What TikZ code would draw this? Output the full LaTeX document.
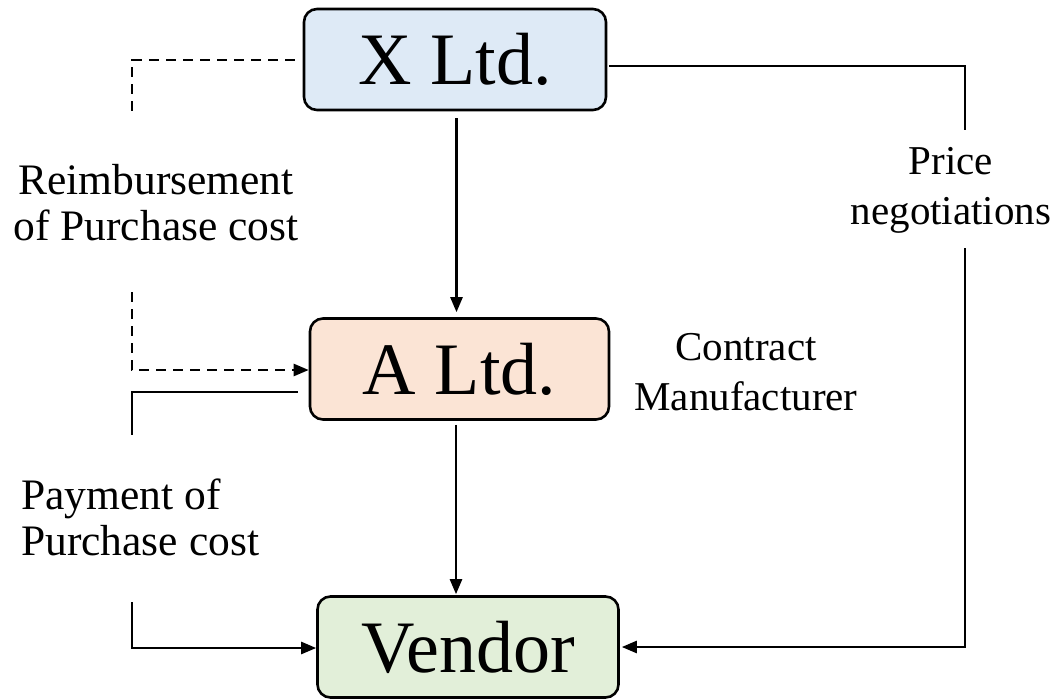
\documentclass[tikz,border=0pt]{standalone}
\usepackage{fontspec}
\setmainfont{Liberation Serif}
\usetikzlibrary{arrows.meta,calc}
\definecolor{xfill}{HTML}{DEEAF6}
\definecolor{afill}{HTML}{FBE4D5}
\definecolor{vfill}{HTML}{E2EFD9}
\begin{document}
\begin{tikzpicture}[x=1pt,y=-1pt,
  box/.style={draw=black,line width=2.6pt,rounded corners=13pt,minimum width=#1,minimum height=101pt,inner sep=0pt,
    font=\fontsize{74}{80}\selectfont},
  lbl/.style={align=center,inner sep=0pt,font=\fontsize{41}{50}\selectfont},
  llbl/.style={align=center,inner sep=0pt,font=\fontsize{43.5}{46}\selectfont},
  conn/.style={line width=2.5pt},
  arr/.style={conn,-{Triangle[length=15pt,width=12pt]}},
  dsh/.style={conn,dash pattern=on 10pt off 7pt}]
\useasboundingbox (0,0) rectangle (1061,699);
\node[box=302pt,fill=xfill] (X) at (455,59.5) {X Ltd.};
\node[box=299pt,fill=afill] (A) at (459.5,369) {A Ltd.};
\node[box=301pt,fill=vfill] (V) at (468,647) {Vendor};

\node[llbl] (reimb) at (156,203) {Reimbursement\\of Purchase cost};
\node[llbl,align=left,anchor=west] (pay) at (21,517) {Payment of\\Purchase cost};
\node[lbl] (price) at (951,190) {Price\\negotiations};
\node[lbl] (contract) at (746,372) {Contract\\Manufacturer};

\coordinate (d1) at (132,115);
\coordinate (d2) at (132,292);
\coordinate (s1) at (132,435);
\coordinate (s2) at (132,602);
\coordinate (r1) at (965,130);
\coordinate (r2) at (965,248);

% X -> A
\draw[arr] ($(X.south)+(1.5,7)$) -- ($(A.north)+(-3,-5)$);
% A -> Vendor
\draw[arr] ($(A.south)+(-3.5,4)$) -- ($(V.north)+(-12,-1)$);
% dashed reimbursement
\draw[dsh] ($(X.west)+(-8,0.5)$) -| (d1);
\draw[dsh,-{Triangle[length=15pt,width=12pt]}] (d2) |- ($(A.west)+(0,1)$);
% payment
\draw[conn] ($(A.west)+(-11,23)$) -| (s1);
\draw[arr] (s2) |- ($(V.west)+(0,1)$);
% price negotiations
\draw[conn] ($(X.east)+(2,6.5)$) -| (r1);
\draw[arr] (r2) |- ($(V.east)+(2,0)$);
\end{tikzpicture}
\end{document}
